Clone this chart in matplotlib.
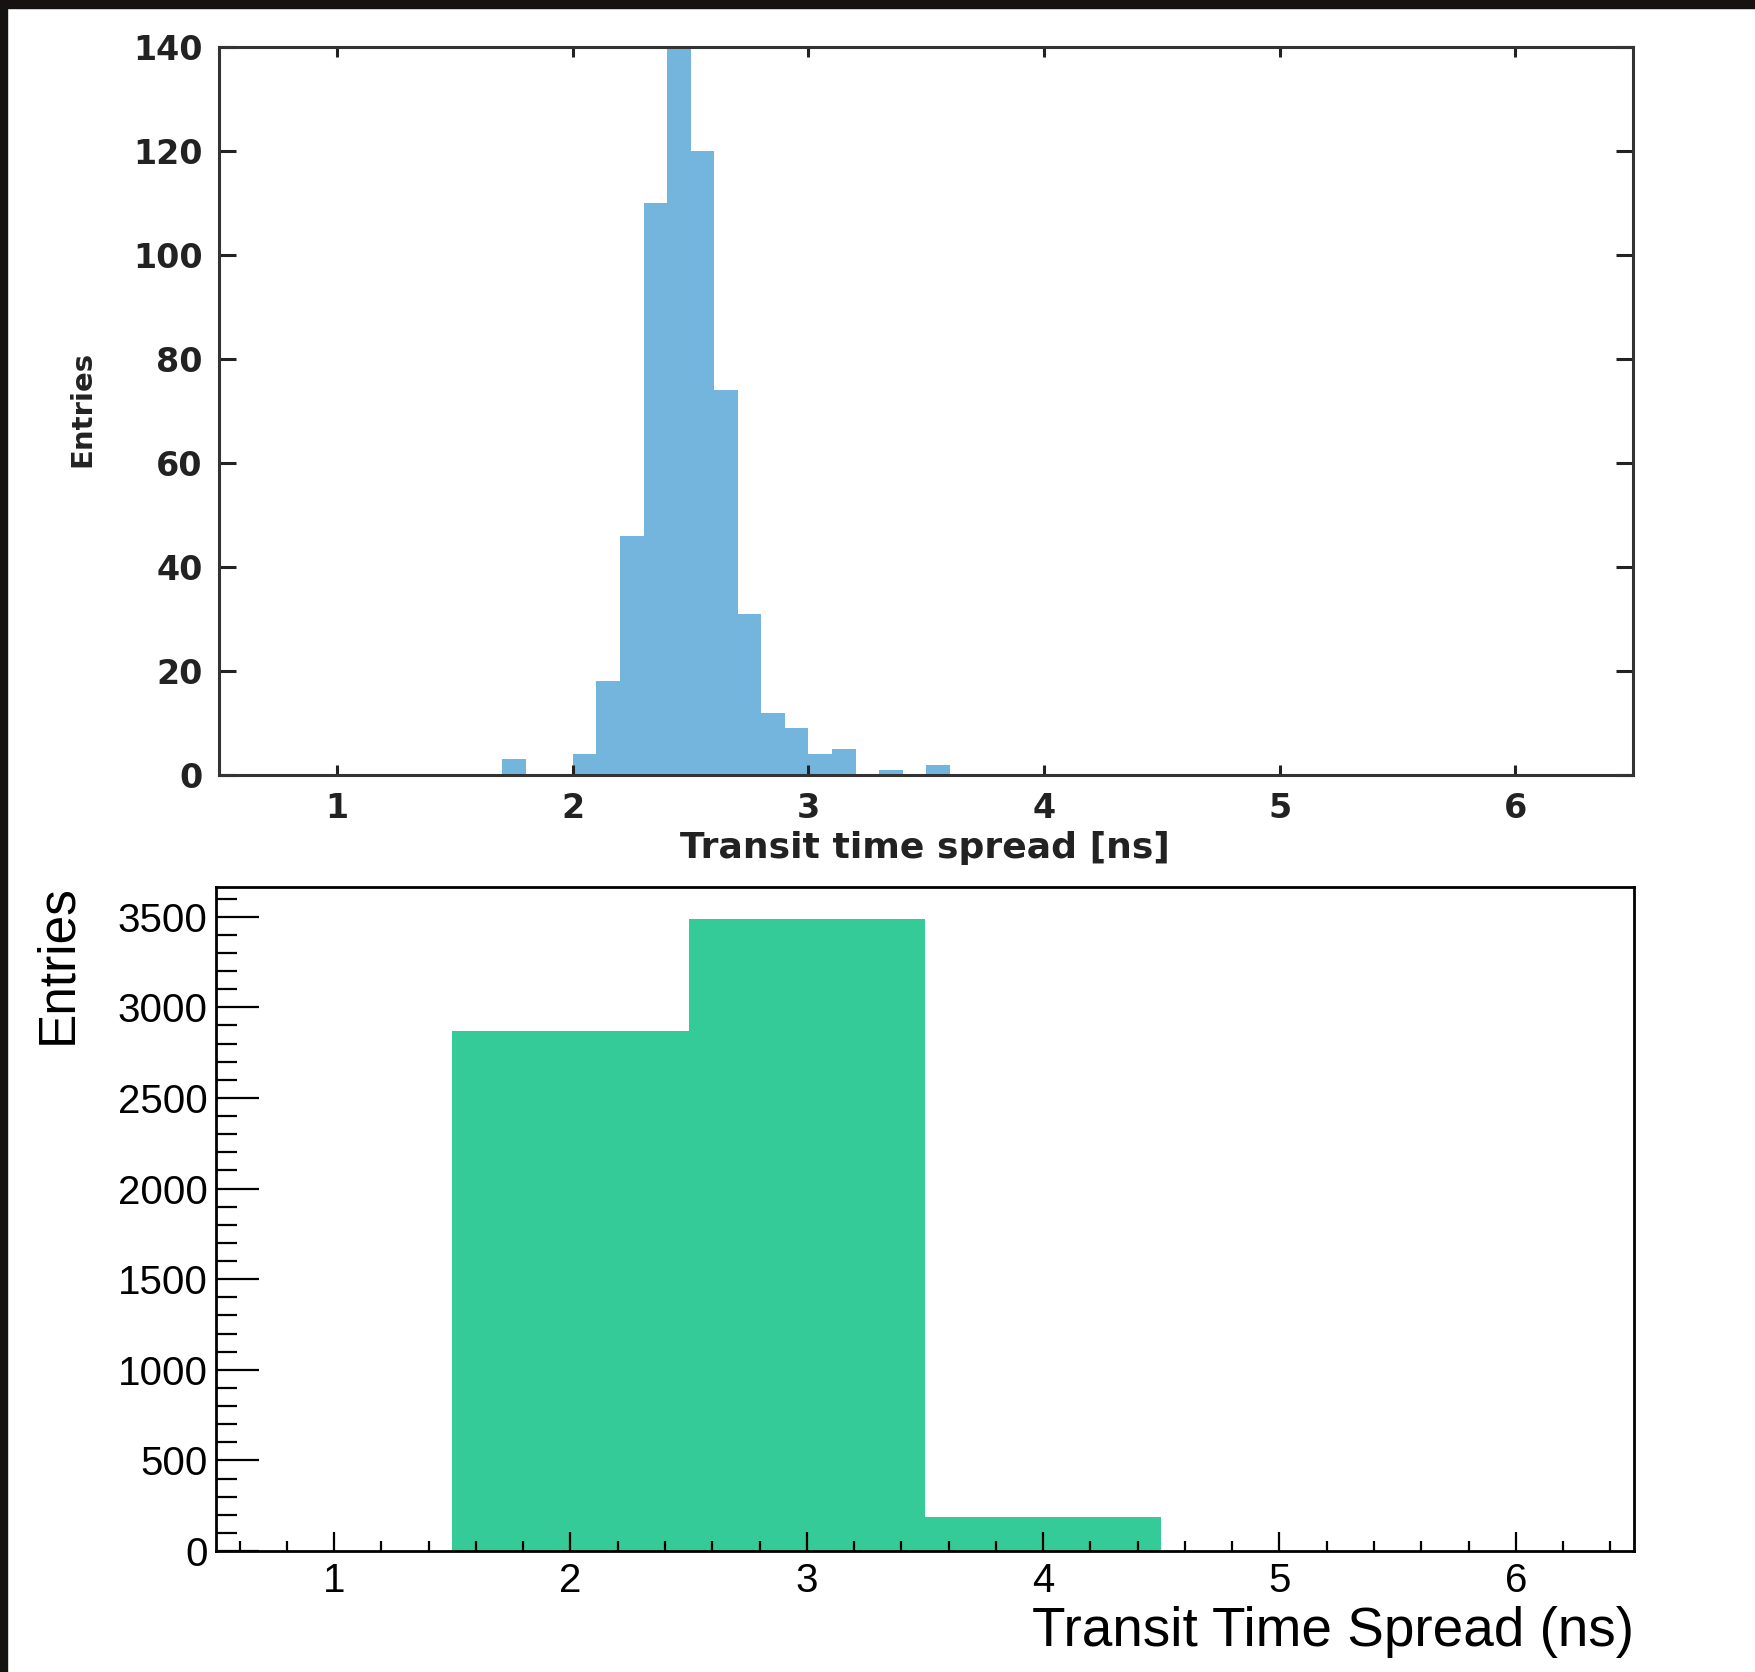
import matplotlib
matplotlib.use('Agg')
import matplotlib.pyplot as plt
from matplotlib.patches import Rectangle

# top panel: scanned histogram, 0.1 ns bins
top_bin_left = [1.7, 1.8, 1.9, 2.0, 2.1, 2.2, 2.3, 2.4, 2.5, 2.6,
                2.7, 2.8, 2.9, 3.0, 3.1, 3.2, 3.3, 3.4, 3.5, 3.6]
top_counts = [3, 0, 0, 4, 18, 46, 110, 140, 120, 74,
              31, 12, 9, 4, 5, 0, 1, 0, 2, 0]
top_bin_width = 0.1
top_yticks = [0, 20, 40, 60, 80, 100, 120, 140]

# bottom panel: ROOT histogram, 1 ns bins
bot_bin_left = [1.5, 2.5, 3.5]
bot_counts = [2870, 3490, 190]
bot_bin_width = 1.0
bot_yticks = [0, 500, 1000, 1500, 2000, 2500, 3000, 3500]

xticks = [1, 2, 3, 4, 5, 6]

W, H = 1756, 1672
fig = plt.figure(figsize=(W / 100, H / 100), dpi=100)
fig.patch.set_facecolor('white')

# dark frame left over from the screenshot
fig.patches.append(Rectangle((0, 1 - 8 / H), 1, 8 / H, transform=fig.transFigure,
                             color='#161212', zorder=0))
fig.patches.append(Rectangle((0, 0), 7 / W, 1, transform=fig.transFigure,
                             color='#161212', zorder=0))

# ---- top panel ----
ax1 = fig.add_axes([219.5 / W, 1 - 775 / H, (1633 - 219.5) / W, (775 - 47) / H])
ax1.bar(top_bin_left, top_counts, width=top_bin_width, align='edge',
        color='#74b5de', linewidth=0)
ax1.set_xlim(0.5, 6.5)
ax1.set_ylim(0, 140)
ax1.set_xticks(xticks)
ax1.set_yticks(top_yticks)
for s in ax1.spines.values():
    s.set_linewidth(2.2)
    s.set_color('#333333')
ax1.tick_params(axis='x', direction='in', length=7, width=2.2, color='#222222',
                top=True, pad=12, labelsize=24)
ax1.tick_params(axis='y', direction='in', length=12, width=2.2, color='#222222',
                right=True, pad=12, labelsize=24)
for lab in ax1.get_xticklabels() + ax1.get_yticklabels():
    lab.set_fontweight('bold')
    lab.set_color('#222222')
fig.text(82 / W, 1 - 409 / H, 'Entries', rotation=90, ha='center', va='center',
         fontsize=21, fontweight='bold', color='#222222')
fig.text(925 / W, 1 - 848 / H, 'Transit time spread [ns]', ha='center', va='center',
         fontsize=26, fontweight='bold', color='#222222')

# ---- bottom panel ----
ax2 = fig.add_axes([216 / W, 1 - 1551 / H, (1634 - 216) / W, (1551 - 887) / H])
ax2.bar(bot_bin_left, bot_counts, width=bot_bin_width, align='edge',
        color='#35cb98', linewidth=0)
ax2.set_xlim(0.5, 6.5)
ax2.set_ylim(0, 3664)
ax2.set_xticks(xticks)
ax2.set_xticks([x / 10 for x in range(6, 66, 2)], minor=True)
ax2.set_yticks(bot_yticks)
ax2.set_yticks(list(range(0, 3700, 100)), minor=True)
for s in ax2.spines.values():
    s.set_linewidth(2.0)
    s.set_color('black')
ax2.tick_params(axis='x', which='major', direction='in', length=14, width=1.6, pad=8)
ax2.tick_params(axis='x', which='minor', direction='in', length=7, width=1.6)
ax2.tick_params(axis='y', which='major', direction='in', length=31, width=1.6, pad=6)
ax2.tick_params(axis='y', which='minor', direction='in', length=15, width=1.6)
for lab in ax2.get_xticklabels() + ax2.get_yticklabels():
    lab.set_fontfamily('Liberation Sans')
    lab.set_fontsize(29)
fig.text(58 / W, 1 - 884 / H, 'Entries', rotation=90, ha='center', va='top',
         fontsize=37, family='Liberation Sans')
fig.text(1634 / W, 1 - 1632 / H, 'Transit Time Spread (ns)', ha='right', va='center',
         fontsize=39.5, family='Liberation Sans')

plt.savefig('out.png', dpi=100)
